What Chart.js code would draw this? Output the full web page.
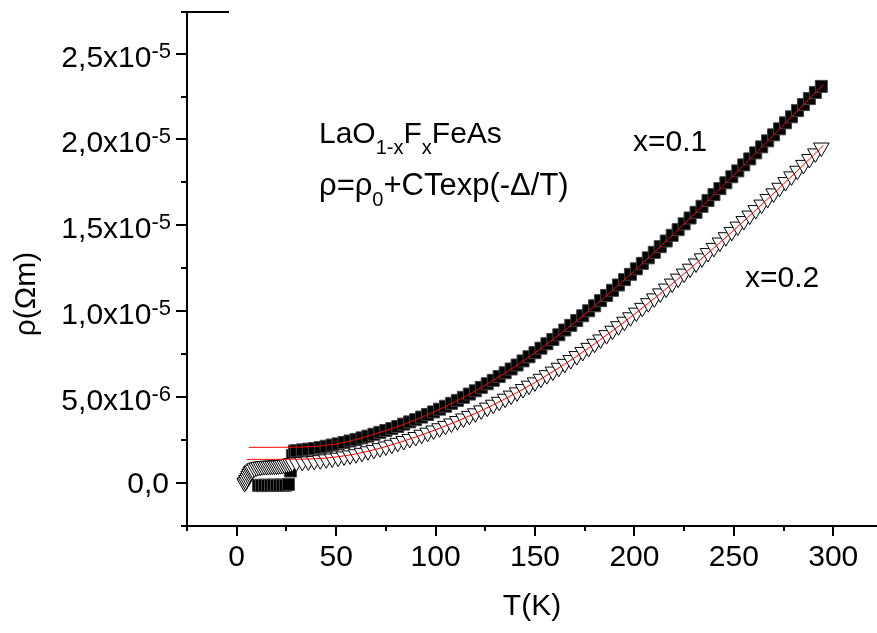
<!DOCTYPE html>
<html>
<head>
<meta charset="utf-8">
<script src="https://cdn.jsdelivr.net/npm/chart.js@4.4.0/dist/chart.umd.min.js"></script>
<style>
  html, body { margin: 0; padding: 0; background: #fff; }
  #wrap { width: 877px; height: 633px; }
</style>
</head>
<body>
<div id="wrap"><canvas id="rhoChart" width="877" height="633"></canvas></div>
<script>
// resistivity in units of 1e-6 Ohm*m
const T_NORMAL = [30,33,36,39,42,45,48,51,54,57,60,63,66,69,72,75,78,81,84,87,90,93,96,99,102,105,108,111,114,117,120,123,126,129,132,135,138,141,144,147,150,153,156,159,162,165,168,171,174,177,180,183,186,189,192,195,198,201,204,207,210,213,216,219,222,225,228,231,234,237,240,243,246,249,252,255,258,261,264,267,270,273,276,279,282,285,288,291,294];

// x = 0.1 (filled squares)
const T_LOW_A = [11,12.5,14,15.5,17,18.5,20,21.5,23,24.5,26,27,28,29];
const RHO_LOW_A = [-0.13,-0.15,-0.13,-0.14,-0.13,-0.12,-0.14,-0.13,-0.12,-0.13,-0.08,0.7,1.6,1.86];
const RHO_A = [1.88,1.93,1.97,2.01,2.07,2.14,2.21,2.28,2.36,2.45,
  2.53,2.63,2.73,2.84,2.95,3.06,3.17,3.29,3.43,3.56,
  3.69,3.84,3.99,4.14,4.30,4.47,4.64,4.81,4.99,5.18,
  5.37,5.57,5.78,5.98,6.20,6.42,6.64,6.87,7.11,7.35,
  7.59,7.85,8.11,8.36,8.63,8.91,9.18,9.46,9.74,10.03,
  10.32,10.62,10.92,11.22,11.53,11.84,12.15,12.47,12.79,13.11,
  13.43,13.76,14.09,14.42,14.75,15.09,15.43,15.76,16.11,16.45,
  16.79,17.14,17.48,17.83,18.17,18.52,18.87,19.22,19.57,19.92,
  20.27,20.62,20.97,21.32,21.68,22.03,22.38,22.74,23.09];

// x = 0.2 (open down triangles)
const T_LOW_B = [4,4.5,5,5.5,6,6.5,7,7.5,8,9,10,11,12,13,14,15,16,17,18,19,20,21,22,23,24,25,26,27,28];
const RHO_LOW_B = [0.0,0.08,0.18,0.3,0.42,0.53,0.63,0.71,0.78,0.86,0.91,0.94,0.96,0.98,0.99,1.0,1.0,1.01,1.01,1.02,1.02,1.03,1.04,1.05,1.07,1.09,1.11,1.14,1.17];
const RHO_B = [1.20,1.23,1.26,1.29,1.33,1.38,1.43,1.48,1.55,1.61,
  1.68,1.76,1.85,1.93,2.03,2.13,2.23,2.34,2.45,2.57,
  2.68,2.81,2.93,3.06,3.19,3.33,3.47,3.61,3.76,3.91,
  4.06,4.23,4.39,4.56,4.73,4.91,5.09,5.28,5.47,5.67,
  5.86,6.07,6.28,6.49,6.71,6.94,7.16,7.39,7.63,7.87,
  8.11,8.36,8.61,8.87,9.13,9.39,9.65,9.92,10.20,10.47,
  10.75,11.04,11.32,11.61,11.90,12.19,12.48,12.78,13.08,13.39,
  13.69,14.00,14.31,14.62,14.93,15.25,15.57,15.89,16.21,16.54,
  16.86,17.19,17.52,17.85,18.18,18.52,18.86,19.19,19.53];

// fit curves rho = rho0 + C T exp(-D/T)
const FIT_T_A = [6,10,20,30,40,50,60,70,80,90,100,110,120,130,140,150,160,170,180,190,200,210,220,230,240,250,260,270,280,290,295];
const FIT_A = [2.08,2.08,2.08,2.09,2.14,2.28,2.54,2.88,3.25,3.69,4.19,4.75,5.37,6.05,6.79,7.59,8.45,9.36,10.32,11.32,12.36,13.43,14.53,15.65,16.79,17.94,19.10,20.27,21.44,22.62,23.21];
const FIT_T_B = [5,10,20,30,40,50,60,70,80,90,100,110,120,130,140,150,160,170,180,190,200,210,220,230,240,250,260,270,280,290,295];
const FIT_B = [1.38,1.38,1.38,1.39,1.42,1.52,1.70,1.97,2.30,2.68,3.10,3.56,4.06,4.61,5.21,5.86,6.56,7.31,8.11,8.95,9.83,10.75,11.70,12.68,13.69,14.72,15.78,16.86,17.96,19.08,19.65];

// axis ticks
const X_MAJOR = [0,50,100,150,200,250,300];
const X_MINOR = [-25,25,75,125,175,225,275];
const Y_MAJOR = [0,5,10,15,20,25];
const Y_LABELS = [['0,0',''],['5,0x10','-6'],['1,0x10','-5'],['1,5x10','-5'],['2,0x10','-5'],['2,5x10','-5']];
const Y_MINOR = [-2.5,2.5,7.5,12.5,17.5,22.5];

const FONT = '"Liberation Sans", Arial, sans-serif';
const pts = (xs, ys) => xs.map((t, i) => ({x: t, y: ys[i]}));

const axesPlugin = {
  id: 'originAxes',
  afterDraw(chart) {
    const ctx = chart.ctx;
    const xs = chart.scales.x, ys = chart.scales.y;
    const a = chart.chartArea;
    ctx.save();
    ctx.strokeStyle = '#000';
    ctx.lineWidth = 2;
    ctx.beginPath();
    ctx.moveTo(a.left, a.top - 1); ctx.lineTo(a.left, a.bottom + 1);
    ctx.moveTo(a.left - 4, a.bottom); ctx.lineTo(a.right, a.bottom);
    ctx.moveTo(a.left - 6, a.top); ctx.lineTo(a.left + 42, a.top);
    X_MAJOR.forEach(v => { const p = Math.round(xs.getPixelForValue(v)); ctx.moveTo(p, a.bottom); ctx.lineTo(p, a.bottom + 10); });
    X_MINOR.forEach(v => { const p = Math.round(xs.getPixelForValue(v)); ctx.moveTo(p, a.bottom); ctx.lineTo(p, a.bottom + 5); });
    Y_MAJOR.forEach(v => { const p = Math.round(ys.getPixelForValue(v)); ctx.moveTo(a.left - 11, p); ctx.lineTo(a.left, p); });
    Y_MINOR.forEach(v => { const p = Math.round(ys.getPixelForValue(v)); ctx.moveTo(a.left - 6, p); ctx.lineTo(a.left, p); });
    ctx.stroke();

    ctx.fillStyle = '#000';
    ctx.font = '30px ' + FONT;
    ctx.textAlign = 'center';
    ctx.textBaseline = 'alphabetic';
    X_MAJOR.forEach(v => ctx.fillText(String(v), xs.getPixelForValue(v), 566));

    // y labels with superscript exponent
    Y_MAJOR.forEach((v, i) => {
      const p = ys.getPixelForValue(v);
      const [man, ex] = Y_LABELS[i];
      ctx.textAlign = 'right';
      if (!ex) {
        ctx.font = '30px ' + FONT;
        ctx.fillText(man, 169, p + 10);
        return;
      }
      ctx.font = '22px ' + FONT;
      const ew = ctx.measureText(ex).width;
      ctx.fillText(ex, 171, p + 4);
      ctx.font = '30px ' + FONT;
      ctx.fillText(man, 171 - ew, p + 13);
    });

    // axis titles
    ctx.textAlign = 'center';
    ctx.textBaseline = 'middle';
    ctx.font = '30px ' + FONT;
    ctx.fillText('T(K)', 532, 607);
    ctx.save();
    ctx.translate(27, 294);
    ctx.rotate(-Math.PI / 2);
    ctx.fillText('\u03C1(\u03A9m)', 0, 0);
    ctx.restore();
    ctx.restore();
  }
};

// text with sub/superscript runs: [text, size, dy]
function drawRuns(ctx, runs, x, y) {
  ctx.textAlign = 'left';
  ctx.textBaseline = 'alphabetic';
  runs.forEach(([t, size, dy]) => {
    ctx.font = size + 'px ' + FONT;
    ctx.fillText(t, x, y + dy);
    x += ctx.measureText(t).width;
  });
}

const notesPlugin = {
  id: 'notes',
  afterDraw(chart) {
    const ctx = chart.ctx;
    ctx.save();
    ctx.fillStyle = '#000';
    drawRuns(ctx, [['LaO', 30, 0], ['1-x', 20, 11], ['F', 30, 0], ['x', 20, 11], ['FeAs', 30, 0]], 319, 143);
    drawRuns(ctx, [['\u03C1=\u03C1', 31, 0], ['0', 20, 11], ['+CTexp(-\u0394/T)', 31, 0]], 319, 195);
    drawRuns(ctx, [['x=0.1', 30, 0]], 633, 151);
    drawRuns(ctx, [['x=0.2', 30, 0]], 745, 287);
    ctx.restore();
  }
};

new Chart(document.getElementById('rhoChart'), {
  type: 'scatter',
  data: {
    datasets: [
      {
        label: 'fit x=0.1',
        data: pts(FIT_T_A, FIT_A),
        showLine: true,
        borderColor: '#ff0000',
        borderWidth: 1,
        pointRadius: 0,
        cubicInterpolationMode: 'monotone',
        order: 0
      },
      {
        label: 'fit x=0.2',
        data: pts(FIT_T_B, FIT_B),
        showLine: true,
        borderColor: '#ff0000',
        borderWidth: 1,
        pointRadius: 0,
        cubicInterpolationMode: 'monotone',
        order: 1
      },
      {
        label: 'x=0.2',
        data: pts(T_LOW_B.concat(T_NORMAL), RHO_LOW_B.concat(RHO_B)),
        pointStyle: 'triangle',
        rotation: 180,
        pointRadius: 9,
        backgroundColor: '#fff',
        borderColor: '#000',
        borderWidth: 1,
        order: 2
      },
      {
        label: 'x=0.1',
        data: pts(T_LOW_A.concat(T_NORMAL), RHO_LOW_A.concat(RHO_A)),
        pointStyle: 'rect',
        pointRadius: 8.5,
        backgroundColor: '#000',
        borderColor: '#444',
        borderWidth: 1,
        order: 3
      }
    ]
  },
  options: {
    responsive: false,
    animation: false,
    devicePixelRatio: 1,
    layout: { autoPadding: false, padding: { left: 187, top: 12, right: 0, bottom: 107 } },
    plugins: { legend: { display: false }, tooltip: { enabled: false } },
    scales: {
      x: { type: 'linear', min: -25, max: 322, display: false },
      y: { type: 'linear', min: -2.5, max: 27.42, display: false }
    }
  },
  plugins: [axesPlugin, notesPlugin]
});
</script>
</body>
</html>
